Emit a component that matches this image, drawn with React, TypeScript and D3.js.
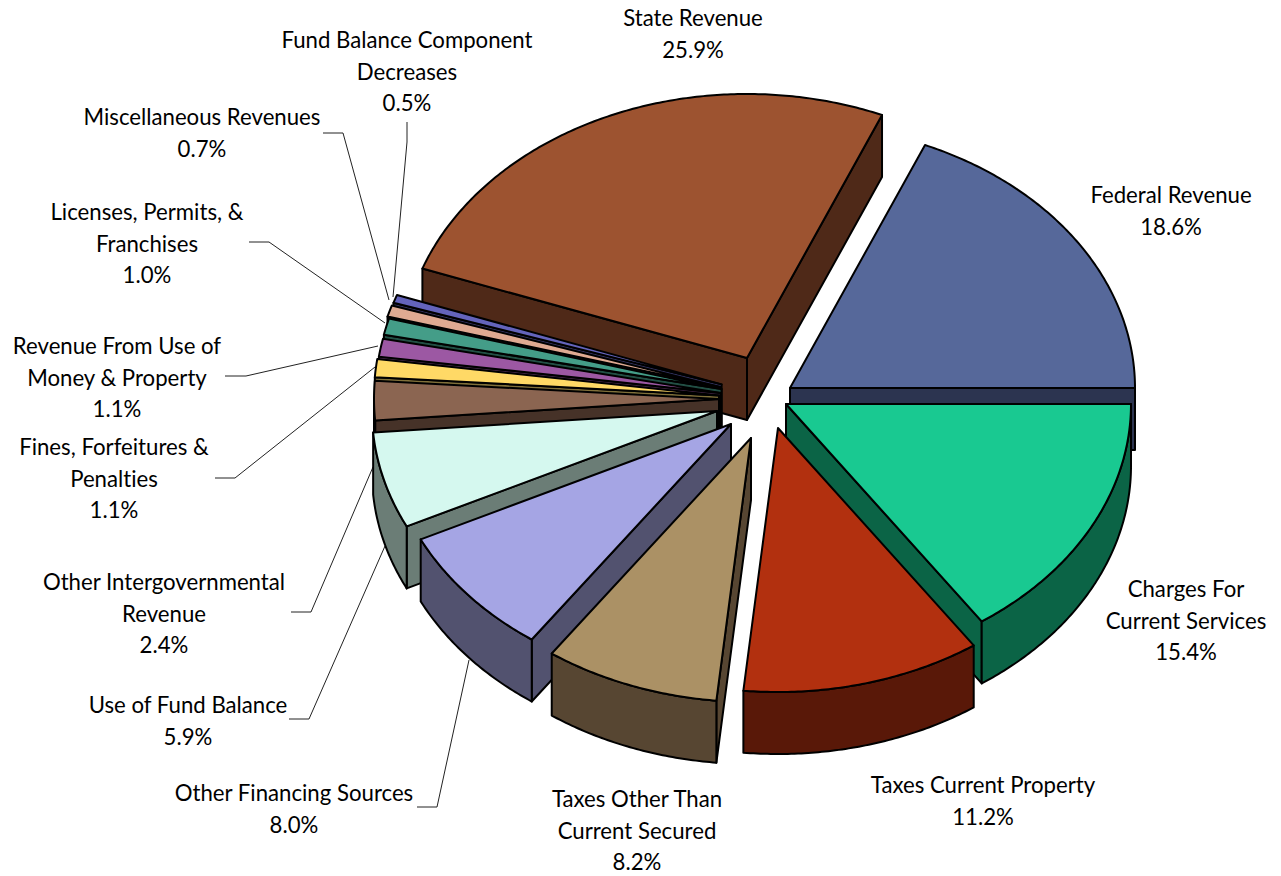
import React from "react";
import * as d3 from "d3";

const categories = [
  "Charges For Current Services", "Taxes Current Property", "Taxes Other Than Current Secured",
  "Other Financing Sources", "Use of Fund Balance", "Other Intergovernmental Revenue",
  "Fines, Forfeitures & Penalties", "Revenue From Use of Money & Property", "Licenses, Permits, & Franchises",
  "Miscellaneous Revenues", "Fund Balance Component Decreases", "State Revenue", "Federal Revenue",
];
const shares = [15.4, 11.2, 8.2, 8.0, 5.9, 2.4, 1.1, 1.1, 1.0, 0.7, 0.5, 25.9, 18.6];
const topColors = ["#19c991", "#b2300f", "#ab9165", "#a5a5e4", "#d5f8ef", "#8b6551", "#ffd966", "#9c58a3", "#449d88", "#dfaa92", "#6464bc", "#9d5330", "#56689a"];
const wallColors = ["#0b6446", "#591808", "#574632", "#52526f", "#6b7d76", "#463228", "#80703a", "#4e2c52", "#224f44", "#705549", "#32325e", "#4f2918", "#2c3450"];
const labelLines = [
  ["Charges For", "Current Services"], ["Taxes Current Property"], ["Taxes Other Than", "Current Secured"],
  ["Other Financing Sources"], ["Use of Fund Balance"], ["Other Intergovernmental", "Revenue"],
  ["Fines, Forfeitures &", "Penalties"], ["Revenue From Use of", "Money & Property"], ["Licenses, Permits, &", "Franchises"],
  ["Miscellaneous Revenues"], ["Fund Balance Component", "Decreases"], ["State Revenue"], ["Federal Revenue"],
];
// exploded slice apexes on the page
const apexX = [786, 778, 751, 731, 717, 719, 719, 720.6, 721.5, 720, 721.6, 747, 790];
const apexY = [404, 428, 438, 424, 411, 399, 395.4, 393, 389, 387, 384.4, 358, 388];
const labelX = [1186, 983, 637, 294, 188, 164, 114, 117, 147, 202, 407, 693, 1171];
const labelY = [597, 793, 807, 801, 713, 590, 455, 354, 220, 125, 48, 26, 203];
const leaders: ([number, number][] | null)[] = [
  null, null, null,
  [[417, 807], [437, 807], [469, 660]],
  [[289, 719], [309, 719], [385, 546]],
  [[291, 612], [311, 612], [373, 467]],
  [[215, 478], [235, 478], [375, 367]],
  [[225, 376], [246, 376], [378, 346]],
  [[249, 242], [269, 242], [385, 323]],
  [[323, 133], [343, 133], [389, 300]],
  [[407, 122], [407, 142], [393, 297]],
  null, null,
];

const RX = 345, RY = 264, DEPTH = 62, LINE = 31.7;

const pie = d3.pie<number>().sort(null).startAngle(Math.PI / 2).endAngle(Math.PI / 2 + 2 * Math.PI);
const arcs = pie(shares);
const path = d3.line<[number, number]>();

function pt(i: number, t: number, dy = 0): [number, number] {
  return [apexX[i] + RX * Math.sin(t), apexY[i] - RY * Math.cos(t) + dy];
}
function rim(i: number, a0: number, a1: number, dy = 0): [number, number][] {
  const n = Math.max(2, Math.ceil(Math.abs(a1 - a0) / 0.01));
  return d3.range(n + 1).map((k) => pt(i, a0 + ((a1 - a0) * k) / n, dy));
}

export default function App() {
  const order = d3.range(shares.length).sort((a, b) => d3.ascending(apexY[a], apexY[b]));
  const stroke = { stroke: "#000", strokeWidth: 2, strokeLinejoin: "round" as const };
  return (
    <svg width={1281} height={876} style={{ position: "absolute", left: 0, top: 0, display: "block", background: "#fff" }}>
      <g fill="none" stroke="#222" strokeWidth={1}>
        {leaders.map((l, i) => (l ? <path key={i} d={path(l) as string} /> : null))}
      </g>
      {order.map((i) => {
        const { startAngle: a0, endAngle: a1 } = arcs[i];
        const p: [number, number] = [apexX[i], apexY[i]];
        const down: [number, number] = [p[0], p[1] + DEPTH];
        const showA = Math.sin(a0) < 0;
        const showB = Math.sin(a1) > 0;
        const wallA = [p, pt(i, a0), pt(i, a0, DEPTH), down] as [number, number][];
        const wallB = [p, pt(i, a1), pt(i, a1, DEPTH), down] as [number, number][];
        const f0 = Math.max(a0, Math.PI / 2), f1 = Math.min(a1, (3 * Math.PI) / 2);
        const showOuter = f1 > f0;
        const outer = showOuter ? [...rim(i, f0, f1), ...rim(i, f1, f0, DEPTH)] : [];
        const top = [p, ...rim(i, a0, a1), p];
        return (
          <g key={categories[i]}>
            {showA && <path d={path(wallA) + "Z"} fill={wallColors[i]} {...stroke} />}
            {showB && <path d={path(wallB) + "Z"} fill={wallColors[i]} {...stroke} />}
            {showOuter && <path d={path(outer) + "Z"} fill={wallColors[i]} {...stroke} />}
            <path d={path(top) + "Z"} fill={topColors[i]} {...stroke} />
          </g>
        );
      })}
      <g fontFamily="Lato, sans-serif" fontSize={22.2} fill="#000" textAnchor="middle" style={{ fontVariantLigatures: "none" }}>
        {categories.map((c, i) => (
          <text key={c} x={labelX[i]} y={labelY[i]}>
            {[...labelLines[i], shares[i].toFixed(1) + "%"].map((t, k) => (
              <tspan key={k} x={labelX[i]} y={labelY[i] + k * LINE}>{t}</tspan>
            ))}
          </text>
        ))}
      </g>
    </svg>
  );
}
